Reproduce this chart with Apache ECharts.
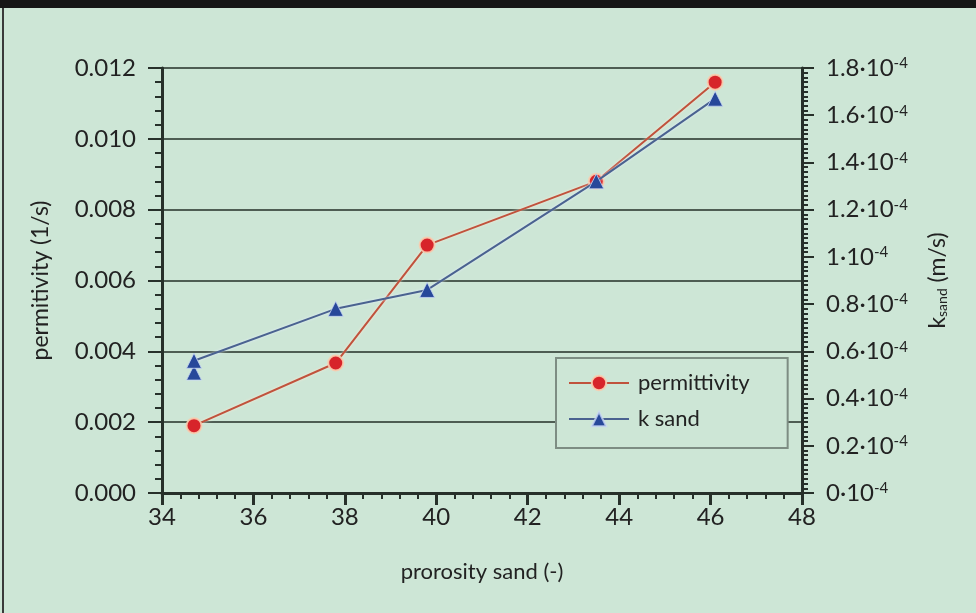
<!DOCTYPE html>
<html>
<head>
<meta charset="utf-8">
<script src="https://cdn.jsdelivr.net/npm/echarts@6/dist/echarts.min.js"></script>
<style>
html,body{margin:0;padding:0;background:#cde6d6;}
#chart{width:976px;height:613px;}
</style>
</head>
<body>
<div id="chart"></div>
<script>
// ---- data ----
const porosityPerm = [34.7, 37.8, 39.8, 43.5, 46.1];
const permittivity = [0.0019, 0.00367, 0.0070, 0.0088, 0.0116];
const porosityK = [34.7, 34.7, 37.8, 39.8, 43.5, 46.1];
const kSandE4 = [0.51, 0.56, 0.78, 0.86, 1.32, 1.67]; // in 10^-4 m/s
const xTicks = {min: 34, max: 48, interval: 2};
const leftTicks = {min: 0, max: 0.012, interval: 0.002};
const rightTicks = {min: 0, max: 1.8, interval: 0.2};

const FONT = 'Lato';
const TXT = '#222';
const AXIS = '#27302a';
const TICKFS = 24;

const chart = echarts.init(document.getElementById('chart'), null, {renderer: 'canvas'});
const permData = porosityPerm.map((x, i) => [x, permittivity[i]]);
const kData = porosityK.map((x, i) => [x, kSandE4[i]]);

chart.setOption({
  backgroundColor: '#cde6d6',
  animation: false,
  textStyle: {fontFamily: FONT},
  graphic: [
    {type: 'rect', left: 0, top: 0, shape: {width: 976, height: 8}, style: {fill: '#161616'}},
    {type: 'rect', left: 2, top: 8, shape: {width: 2, height: 605}, style: {fill: '#3a3a3a'}}
  ],
  grid: {left: 162, right: 174, top: 68, bottom: 120, containLabel: false},
  legend: {
    orient: 'vertical',
    left: 556, top: 358,
    data: ['permittivity', 'k sand'],
    itemWidth: 60, itemHeight: 18, itemGap: 14,
    padding: [14, 38, 18, 12],
    backgroundColor: '#cde6d6',
    borderColor: '#7d8d83', borderWidth: 2,
    textStyle: {fontFamily: FONT, fontSize: 22, color: TXT, padding: [0, 0, 0, 4]}
  },
  xAxis: {
    type: 'value',
    min: xTicks.min, max: xTicks.max, interval: xTicks.interval,
    name: 'prorosity sand (-)', nameLocation: 'middle', nameGap: 68,
    nameTextStyle: {fontFamily: FONT, fontSize: 22, color: TXT},
    axisLine: {onZero: false, lineStyle: {color: AXIS, width: 3}},
    axisTick: {show: true, length: 12, lineStyle: {color: AXIS, width: 3}},
    minorTick: {show: true, splitNumber: 5, length: 6, lineStyle: {color: AXIS, width: 2}},
    axisLabel: {fontFamily: FONT, fontSize: TICKFS, color: TXT, margin: 12},
    splitLine: {show: false}
  },
  yAxis: [
    {
      type: 'value', position: 'left',
      min: leftTicks.min, max: leftTicks.max, interval: leftTicks.interval,
      name: 'permitivity (1/s)', nameLocation: 'middle', nameGap: 110, nameRotate: 90,
      nameTextStyle: {fontFamily: FONT, fontSize: 23, color: TXT},
      axisLine: {show: true, onZero: false, lineStyle: {color: AXIS, width: 3}},
      axisTick: {show: true, length: 14, lineStyle: {color: AXIS, width: 2}},
      minorTick: {show: true, splitNumber: 5, length: 7, lineStyle: {color: AXIS, width: 2}},
      axisLabel: {fontFamily: FONT, fontSize: TICKFS, color: TXT, margin: 26,
        formatter: v => v.toFixed(3)},
      splitLine: {show: true, lineStyle: {color: '#4e5d53', width: 2}}
    },
    {
      type: 'value', position: 'right',
      min: rightTicks.min, max: rightTicks.max, interval: rightTicks.interval,
      name: '{k|k}{sub|sand}{k| (m/s)}', nameLocation: 'middle', nameGap: 124, nameRotate: 90,
      nameTextStyle: {fontFamily: FONT, fontSize: 23, color: TXT,
        rich: {
          k: {fontFamily: FONT, fontSize: 23, color: TXT},
          sub: {fontFamily: FONT, fontSize: 14, color: TXT, verticalAlign: 'bottom'}
        }},
      axisLine: {show: true, onZero: false, lineStyle: {color: AXIS, width: 3}},
      axisTick: {show: true, length: 12, lineStyle: {color: AXIS, width: 2}},
      minorTick: {show: true, splitNumber: 10, length: 6, lineStyle: {color: AXIS, width: 2}},
      axisLabel: {fontFamily: FONT, fontSize: TICKFS, color: TXT, margin: 24,
        formatter: v => {
          const s = String(Math.round(v * 10) / 10);
          return '{n|' + s + '·10}{sup|-4}';
        },
        rich: {
          n: {fontFamily: FONT, fontSize: TICKFS, color: TXT},
          sup: {fontFamily: FONT, fontSize: 15, color: TXT, verticalAlign: 'top'}
        }},
      splitLine: {show: false}
    }
  ],
  series: [
    {
      name: 'permittivity', type: 'line', yAxisIndex: 0,
      data: permData,
      symbol: 'circle', symbolSize: 15,
      lineStyle: {color: '#c0523c', width: 2, shadowColor: 'rgba(255,235,215,0.9)', shadowBlur: 3},
      itemStyle: {color: '#d7242a', borderColor: 'rgba(250,205,175,0.9)', borderWidth: 2},
      z: 3
    },
    {
      name: 'k sand', type: 'line', yAxisIndex: 1,
      data: kData,
      symbol: 'triangle', symbolSize: 15,
      lineStyle: {color: '#4a6290', width: 2, shadowColor: 'rgba(230,240,255,0.9)', shadowBlur: 3},
      itemStyle: {color: '#27489a', borderColor: 'rgba(200,215,245,0.8)', borderWidth: 1},
      z: 4
    }
  ]
});
</script>
</body>
</html>
